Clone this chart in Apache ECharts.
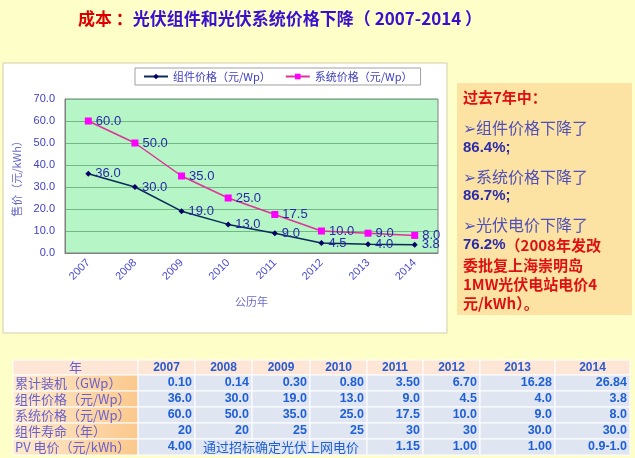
<!DOCTYPE html>
<html>
<head>
<meta charset="utf-8">
<script src="https://cdn.jsdelivr.net/npm/echarts@6/dist/echarts.min.js"></script>
<style>
  html, body { margin: 0; padding: 0; background: #fefec9; }
  #main { width: 635px; height: 458px; }
</style>
</head>
<body>
<div id="main"></div>
<script>
// 图表数据
const years = ['2007', '2008', '2009', '2010', '2011', '2012', '2013', '2014'];
const modulePrice = [36.0, 30.0, 19.0, 13.0, 9.0, 4.5, 4.0, 3.8];
const systemPrice = [60.0, 50.0, 35.0, 25.0, 17.5, 10.0, 9.0, 8.0];
const seriesNames = ['组件价格（元/Wp）', '系统价格（元/Wp）'];

// 表格数据
const capacity = ['0.10', '0.14', '0.30', '0.80', '3.50', '6.70', '16.28', '26.84'];
const lifetime = ['20', '20', '25', '25', '30', '30', '30.0', '30.0'];
const pvTariff = ['4.00', '', '', '', '1.15', '1.00', '1.00', '0.9-1.0'];
const tenderNote = '通过招标确定光伏上网电价';
const rowNames = ['累计装机（GWp）', '组件价格（元/Wp）', '系统价格（元/Wp）', '组件寿命（年）', 'PV 电价（元/kWh）'];

const CJK = '"Noto Sans CJK SC", sans-serif';
const NUM = '"Liberation Sans", "Noto Sans CJK SC", sans-serif';

// 表格用graphic画
function buildTable() {
  const colX = [13, 138, 195, 252, 310, 367, 423, 480, 555, 630];
  const rowY = [360, 375, 391, 407, 423, 439, 455];
  const rows = [
    capacity,
    modulePrice.map(v => v.toFixed(1)),
    systemPrice.map(v => v.toFixed(1)),
    lifetime,
    pvTariff
  ];
  const els = [];
  for (let r = 0; r < rowY.length - 1; r++) {
    for (let c = 0; c < colX.length - 1; c++) {
      let fill = '#dfe5f1';
      if (r === 0) fill = '#fde6d6';
      else if (c === 0) fill = new echarts.graphic.LinearGradient(0, 0, 1, 0, [
        { offset: 0, color: '#fdebd0' }, { offset: 1, color: '#fbc88c' }
      ]);
      els.push({
        type: 'rect',
        shape: { x: colX[c], y: rowY[r], width: colX[c + 1] - colX[c], height: rowY[r + 1] - rowY[r] },
        style: { fill: fill, stroke: '#ffffff', lineWidth: 1 }
      });
    }
  }
  const midY = r => (rowY[r] + rowY[r + 1]) / 2;
  // 表头
  els.push({
    type: 'text', x: (colX[0] + colX[1]) / 2, y: midY(0),
    style: { text: '年', fill: '#6a5fcf', font: '13px ' + CJK, align: 'center', verticalAlign: 'middle' }
  });
  years.forEach((y, i) => {
    els.push({
      type: 'text', x: (colX[i + 1] + colX[i + 2]) / 2, y: midY(0),
      style: { text: y, fill: '#2a5ad0', font: 'bold 12px ' + NUM, align: 'center', verticalAlign: 'middle' }
    });
  });
  // 数据行
  rowNames.forEach((name, k) => {
    const r = k + 1;
    els.push({
      type: 'text', x: colX[0] + 2, y: midY(r),
      style: { text: name, fill: '#6a5fcf', font: '13px ' + CJK, align: 'left', verticalAlign: 'middle' }
    });
    rows[k].forEach((v, i) => {
      if (!v) return;
      els.push({
        type: 'text', x: colX[i + 2] - 3, y: midY(r),
        style: { text: v, fill: '#1f5fd6', font: 'bold 12.5px ' + NUM, align: 'right', verticalAlign: 'middle' }
      });
    });
  });
  els.push({
    type: 'text', x: colX[2] + 8, y: midY(5),
    style: { text: tenderNote, fill: '#1f5fd6', font: '13px ' + CJK, align: 'left', verticalAlign: 'middle' }
  });
  return els;
}

// 右侧说明框
function buildNote() {
  const blue = '#2c2ca8', lblue = '#5050b8', red = '#dd1111';
  const rich = {
    r: { fill: red, color: red, font: 'bold 15px ' + CJK },
    b: { fill: blue, color: blue, font: 'bold 15px ' + NUM },
    l: { fill: lblue, color: lblue, font: '16px ' + CJK }
  };
  const lines = [
    [97, '{r|过去7年中：}'],
    [128, '{l|➢组件价格下降了}'],
    [148, '{b|86.4%;}'],
    [177, '{l|➢系统价格下降了}'],
    [196, '{b|86.7%;}'],
    [225, '{l|➢光伏电价下降了}'],
    [245, '{b|76.2%}{r|（2008年发改}'],
    [265, '{r|委批复上海崇明岛}'],
    [284, '{r|1MW光伏电站电价4}'],
    [303, '{r|元/kWh）。}']
  ];
  const els = [{
    type: 'rect', shape: { x: 457, y: 83, width: 175, height: 232 },
    style: { fill: '#fde3a3' }
  }];
  lines.forEach(l => {
    els.push({
      type: 'text', x: 463, y: l[0],
      style: { text: l[1], rich: rich, align: 'left', verticalAlign: 'middle' }
    });
  });
  return els;
}

const chart = echarts.init(document.getElementById('main'));
const option = {
  backgroundColor: '#fefec9',
  textStyle: { fontFamily: NUM },
  graphic: [
    // 图表外框
    {
      type: 'rect', z: -10,
      shape: { x: 3, y: 63, width: 444, height: 270 },
      style: { fill: '#ffffff', stroke: '#cfcfa8', lineWidth: 1 }
    },
    // 标题
    {
      type: 'text', x: 78, y: 19,
      style: {
        text: '{r|成本 ：}{b|光伏组件和光伏系统价格下降（ 2007-2014 ）}',
        align: 'left', verticalAlign: 'middle',
        rich: {
          r: { fill: '#dd0000', color: '#dd0000', font: 'bold 17px ' + CJK },
          b: { fill: '#3a0fd0', color: '#3a0fd0', font: 'bold 17px ' + CJK }
        }
      }
    },
    ...buildNote(),
    ...buildTable()
  ],
  legend: {
    left: 135, top: 68,
    padding: [3, 8],
    itemGap: 14,
    itemWidth: 24, itemHeight: 7,
    backgroundColor: '#ffffff',
    borderColor: '#a0a0a0', borderWidth: 1,
    textStyle: { color: '#4040c0', fontSize: 11, fontFamily: CJK },
    data: seriesNames
  },
  grid: {
    left: 65, top: 99, right: 197, bottom: 205,
    show: true, backgroundColor: '#b6f5c5',
    borderColor: '#7f7f7f', borderWidth: 1
  },
  xAxis: {
    type: 'category',
    data: years,
    boundaryGap: true,
    name: '公历年',
    nameLocation: 'middle',
    nameGap: 43,
    nameTextStyle: { color: '#6a6acc', fontSize: 11, fontFamily: CJK },
    axisLine: { lineStyle: { color: '#7f7f7f' } },
    axisTick: { inside: true, length: 3, lineStyle: { color: '#7f7f7f' } },
    axisLabel: { rotate: 45, color: '#4a4ad0', fontSize: 11, margin: 8 }
  },
  yAxis: {
    type: 'value',
    min: 0, max: 70, interval: 10,
    name: '售价（元/kWh）',
    nameLocation: 'middle',
    nameRotate: 90,
    nameGap: 43,
    nameTextStyle: { color: '#6a6acc', fontSize: 11, fontFamily: CJK },
    axisLine: { show: true, lineStyle: { color: '#7f7f7f' } },
    axisTick: { show: false },
    axisLabel: { color: '#4040c0', fontSize: 11, margin: 10, formatter: v => v.toFixed(1) },
    splitLine: { lineStyle: { color: '#72b884' } }
  },
  series: [
    {
      name: seriesNames[0],
      type: 'line',
      data: modulePrice,
      symbol: 'diamond', symbolSize: 6,
      itemStyle: { color: '#000066' },
      lineStyle: { color: '#0a2a5a', width: 1.5 },
      label: { show: true, position: 'right', distance: 4, color: '#2828a8', fontSize: 13, formatter: p => p.value.toFixed(1) }
    },
    {
      name: seriesNames[1],
      type: 'line',
      data: systemPrice,
      symbol: 'rect', symbolSize: 7,
      itemStyle: { color: '#ff00ff' },
      lineStyle: { color: '#dd3399', width: 1.5 },
      label: { show: true, position: 'right', distance: 4, color: '#2828a8', fontSize: 13, formatter: p => p.value.toFixed(1) }
    }
  ]
};
chart.setOption(option);
</script>
</body>
</html>
